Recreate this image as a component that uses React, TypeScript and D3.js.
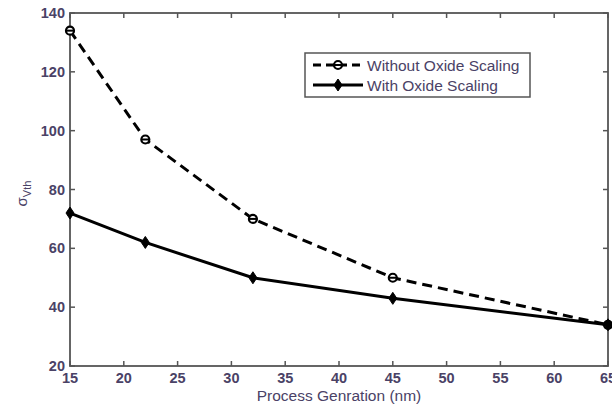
import React from "react";
import * as d3 from "d3";

const processNodes = [15, 22, 32, 45, 65];
const withoutOxideScaling = [134, 97, 70, 50, 34];
const withOxideScaling = [72, 62, 50, 43, 34];
const xTicks = [15, 20, 25, 30, 35, 40, 45, 50, 55, 60, 65];
const yTicks = [20, 40, 60, 80, 100, 120, 140];
const seriesNames = ["Without Oxide Scaling", "With Oxide Scaling"];

const W = 612;
const H = 406;
const M = { left: 70, right: 4, top: 13, bottom: 40 };
const labelColor = "#4a4266";
const axisColor = "#555";
const font = "Arial, 'Liberation Sans', sans-serif";

export default function App() {
  const x = d3.scaleLinear().domain([15, 65]).range([M.left, W - M.right]);
  const y = d3.scaleLinear().domain([20, 140]).range([H - M.bottom, M.top]);
  const line = d3
    .line<number>()
    .x((_, i) => x(processNodes[i]))
    .y((d) => y(d));

  const circleMarker = (cx: number, cy: number, key: string) => (
    <g key={key}>
      <circle cx={cx} cy={cy} r={4} fill="white" stroke="#000" strokeWidth={2.2} />
      <line x1={cx - 4} x2={cx + 4} y1={cy} y2={cy} stroke="#000" strokeWidth={2} />
    </g>
  );
  const diamondMarker = (cx: number, cy: number, key: string) => (
    <path
      key={key}
      d={`M${cx},${cy - 6}L${cx + 4},${cy}L${cx},${cy + 6}L${cx - 4},${cy}Z`}
      fill="#000"
      stroke="#000"
      strokeWidth={1}
    />
  );

  const x0 = M.left;
  const x1 = W - M.right;
  const y0 = H - M.bottom;
  const y1 = M.top;
  const tl = 5;

  return (
    <svg width={W} height={H} style={{ position: "absolute", left: 0, top: 0, background: "#fff" }}>
      <rect x={0} y={0} width={W} height={H} fill="#fff" />
      {/* ticks on all four sides, pointing inward */}
      {xTicks.map((t) => (
        <g key={"xt" + t}>
          <line x1={x(t)} x2={x(t)} y1={y0} y2={y0 - tl} stroke={axisColor} strokeWidth={1.5} />
          <line x1={x(t)} x2={x(t)} y1={y1} y2={y1 + tl} stroke={axisColor} strokeWidth={1.5} />
          <text
            x={x(t)}
            y={y0 + 17}
            textAnchor="middle"
            fontFamily={font}
            fontSize={14.5}
            fontWeight="bold"
            fill={labelColor}
          >
            {t}
          </text>
        </g>
      ))}
      {yTicks.map((t) => (
        <g key={"yt" + t}>
          <line x1={x0} x2={x0 + tl} y1={y(t)} y2={y(t)} stroke={axisColor} strokeWidth={1.5} />
          <line x1={x1} x2={x1 - tl} y1={y(t)} y2={y(t)} stroke={axisColor} strokeWidth={1.5} />
          <text
            x={x0 - 5}
            y={y(t) + 5}
            textAnchor="end"
            fontFamily={font}
            fontSize={14.5}
            fontWeight="bold"
            fill={labelColor}
          >
            {t}
          </text>
        </g>
      ))}
      <rect x={x0} y={y1} width={x1 - x0} height={y0 - y1} fill="none" stroke={axisColor} strokeWidth={1.8} />

      {/* series */}
      <path d={line(withoutOxideScaling) || ""} fill="none" stroke="#000" strokeWidth={3} strokeDasharray="10,6" />
      <path d={line(withOxideScaling) || ""} fill="none" stroke="#000" strokeWidth={3} />
      {withoutOxideScaling.map((v, i) => circleMarker(x(processNodes[i]), y(v), "c" + i))}
      {withOxideScaling.map((v, i) => diamondMarker(x(processNodes[i]), y(v), "d" + i))}

      {/* legend */}
      <rect x={305} y={53} width={225} height={44} fill="#fff" stroke={axisColor} strokeWidth={1.5} />
      <line x1={313} x2={363} y1={65} y2={65} stroke="#000" strokeWidth={3} strokeDasharray="8,5" />
      {circleMarker(338, 65, "lc")}
      <text x={367} y={70.5} fontFamily={font} fontSize={15.5} fill={labelColor}>
        {seriesNames[0]}
      </text>
      <line x1={313} x2={363} y1={85} y2={85} stroke="#000" strokeWidth={3} />
      {diamondMarker(338, 85, "ld")}
      <text x={367} y={90.5} fontFamily={font} fontSize={15.5} fill={labelColor}>
        {seriesNames[1]}
      </text>

      {/* axis titles */}
      <text
        x={(x0 + x1) / 2}
        y={H - 5}
        textAnchor="middle"
        fontFamily={font}
        fontSize={15.5}
        fill={labelColor}
      >
        Process Genration (nm)
      </text>
      <text
        transform={`translate(27, ${(y0 + y1) / 2 + 4}) rotate(-90)`}
        textAnchor="middle"
        fontFamily={font}
        fontSize={15}
        fill={labelColor}
      >
        σ<tspan fontSize={11} dy={4}>Vth</tspan>
      </text>
    </svg>
  );
}
